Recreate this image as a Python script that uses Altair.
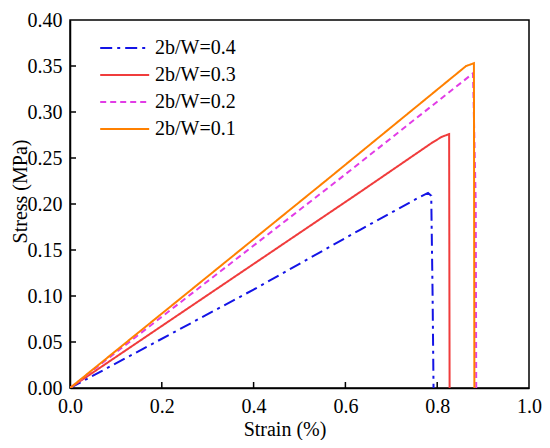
import altair as alt
import pandas as pd

series = ["2b/W=0.4", "2b/W=0.3", "2b/W=0.2", "2b/W=0.1"]
colors = ["#1414e6", "#f03c3c", "#e23ce6", "#ff8000"]
dashes = [[12, 5, 3, 5], [1, 0], [6, 4], [1, 0]]

strain_04 = [0.0, 0.40, 0.632, 0.76, 0.780, 0.787, 0.790, 0.792]
stress_04 = [0.0, 0.107, 0.172, 0.207, 0.212, 0.209, 0.10, 0.0]
strain_03 = [0.0, 0.632, 0.79, 0.810, 0.826, 0.827]
stress_03 = [0.0, 0.213, 0.267, 0.273, 0.276, 0.0]
strain_02 = [0.0, 0.584, 0.878, 0.884, 0.885]
stress_02 = [0.0, 0.226, 0.342, 0.20, 0.0]
strain_01 = [0.0, 0.559, 0.863, 0.880, 0.881]
stress_01 = [0.0, 0.226, 0.350, 0.353, 0.0]

x_ticks = [0.2, 0.4, 0.6, 0.8]
y_ticks = [0.05, 0.10, 0.15, 0.20, 0.25, 0.30, 0.35]

rows = []
for name, xs, ys in zip(series,
                        [strain_04, strain_03, strain_02, strain_01],
                        [stress_04, stress_03, stress_02, stress_01]):
    for i, (a, b) in enumerate(zip(xs, ys)):
        rows.append({"series": name, "strain": a, "stress": b, "idx": i})
df = pd.DataFrame(rows)

FONT = "Liberation Serif"
W, H = 459, 368

xscale = alt.Scale(domain=[0, 1], nice=False)
yscale = alt.Scale(domain=[0, 0.4], nice=False)

common = dict(ticks=False, tickSize=0, labelPadding=8, grid=False,
              domainColor="black", domainWidth=1.5, labelFlush=False,
              labelFont=FONT, titleFont=FONT, labelFontSize=20, titleFontSize=20,
              labelColor="black", titleColor="black", titleFontWeight="normal",
              titleBaseline="alphabetic")
xaxis = alt.Axis(title="Strain (%)", values=[0, 0.2, 0.4, 0.6, 0.8, 1.0],
                 format=".1f", titleY=47, titleX=W / 2 - 15, **common)
yaxis = alt.Axis(title="Stress (MPa)", values=[0, 0.05, 0.1, 0.15, 0.2, 0.25, 0.3, 0.35, 0.4],
                 format=".2f", titleX=-44, titleY=171, **common)

leg = dict(title=None, orient="none", legendX=29, legendY=17,
           symbolType="M-1,0L4,0", symbolSize=384,
           symbolStrokeWidth=2, labelFontSize=20, labelColor="black",
           labelFont=FONT, rowPadding=6, labelOffset=34)

lines = alt.Chart(df).mark_line(strokeWidth=2, clip=True).encode(
    x=alt.X("strain:Q", scale=xscale, axis=xaxis),
    y=alt.Y("stress:Q", scale=yscale, axis=yaxis),
    color=alt.Color("series:N", scale=alt.Scale(domain=series, range=colors),
                    legend=alt.Legend(**leg)),
    strokeDash=alt.StrokeDash("series:N", scale=alt.Scale(domain=series, range=dashes),
                              legend=alt.Legend(**leg)),
    order="idx:Q",
    detail="series:N",
)

xt = alt.Chart(pd.DataFrame({"strain": x_ticks})).mark_rule(color="black", strokeWidth=1.5).encode(
    x=alt.X("strain:Q", scale=xscale, axis=xaxis),
    y=alt.value(H), y2=alt.value(H - 6))
yt = alt.Chart(pd.DataFrame({"stress": y_ticks})).mark_rule(color="black", strokeWidth=1.5).encode(
    y=alt.Y("stress:Q", scale=yscale, axis=yaxis),
    x=alt.value(0), x2=alt.value(6))

chart = alt.layer(lines, xt, yt).properties(
    width=W, height=H,
    background="white",
    autosize=alt.AutoSizeParams(type="none"),
    padding={"left": 62, "top": 12, "right": 13, "bottom": 52},
).configure_view(stroke="black", strokeWidth=1.5)

chart.save("out.html", embed_options={"renderer": "svg", "actions": False})
